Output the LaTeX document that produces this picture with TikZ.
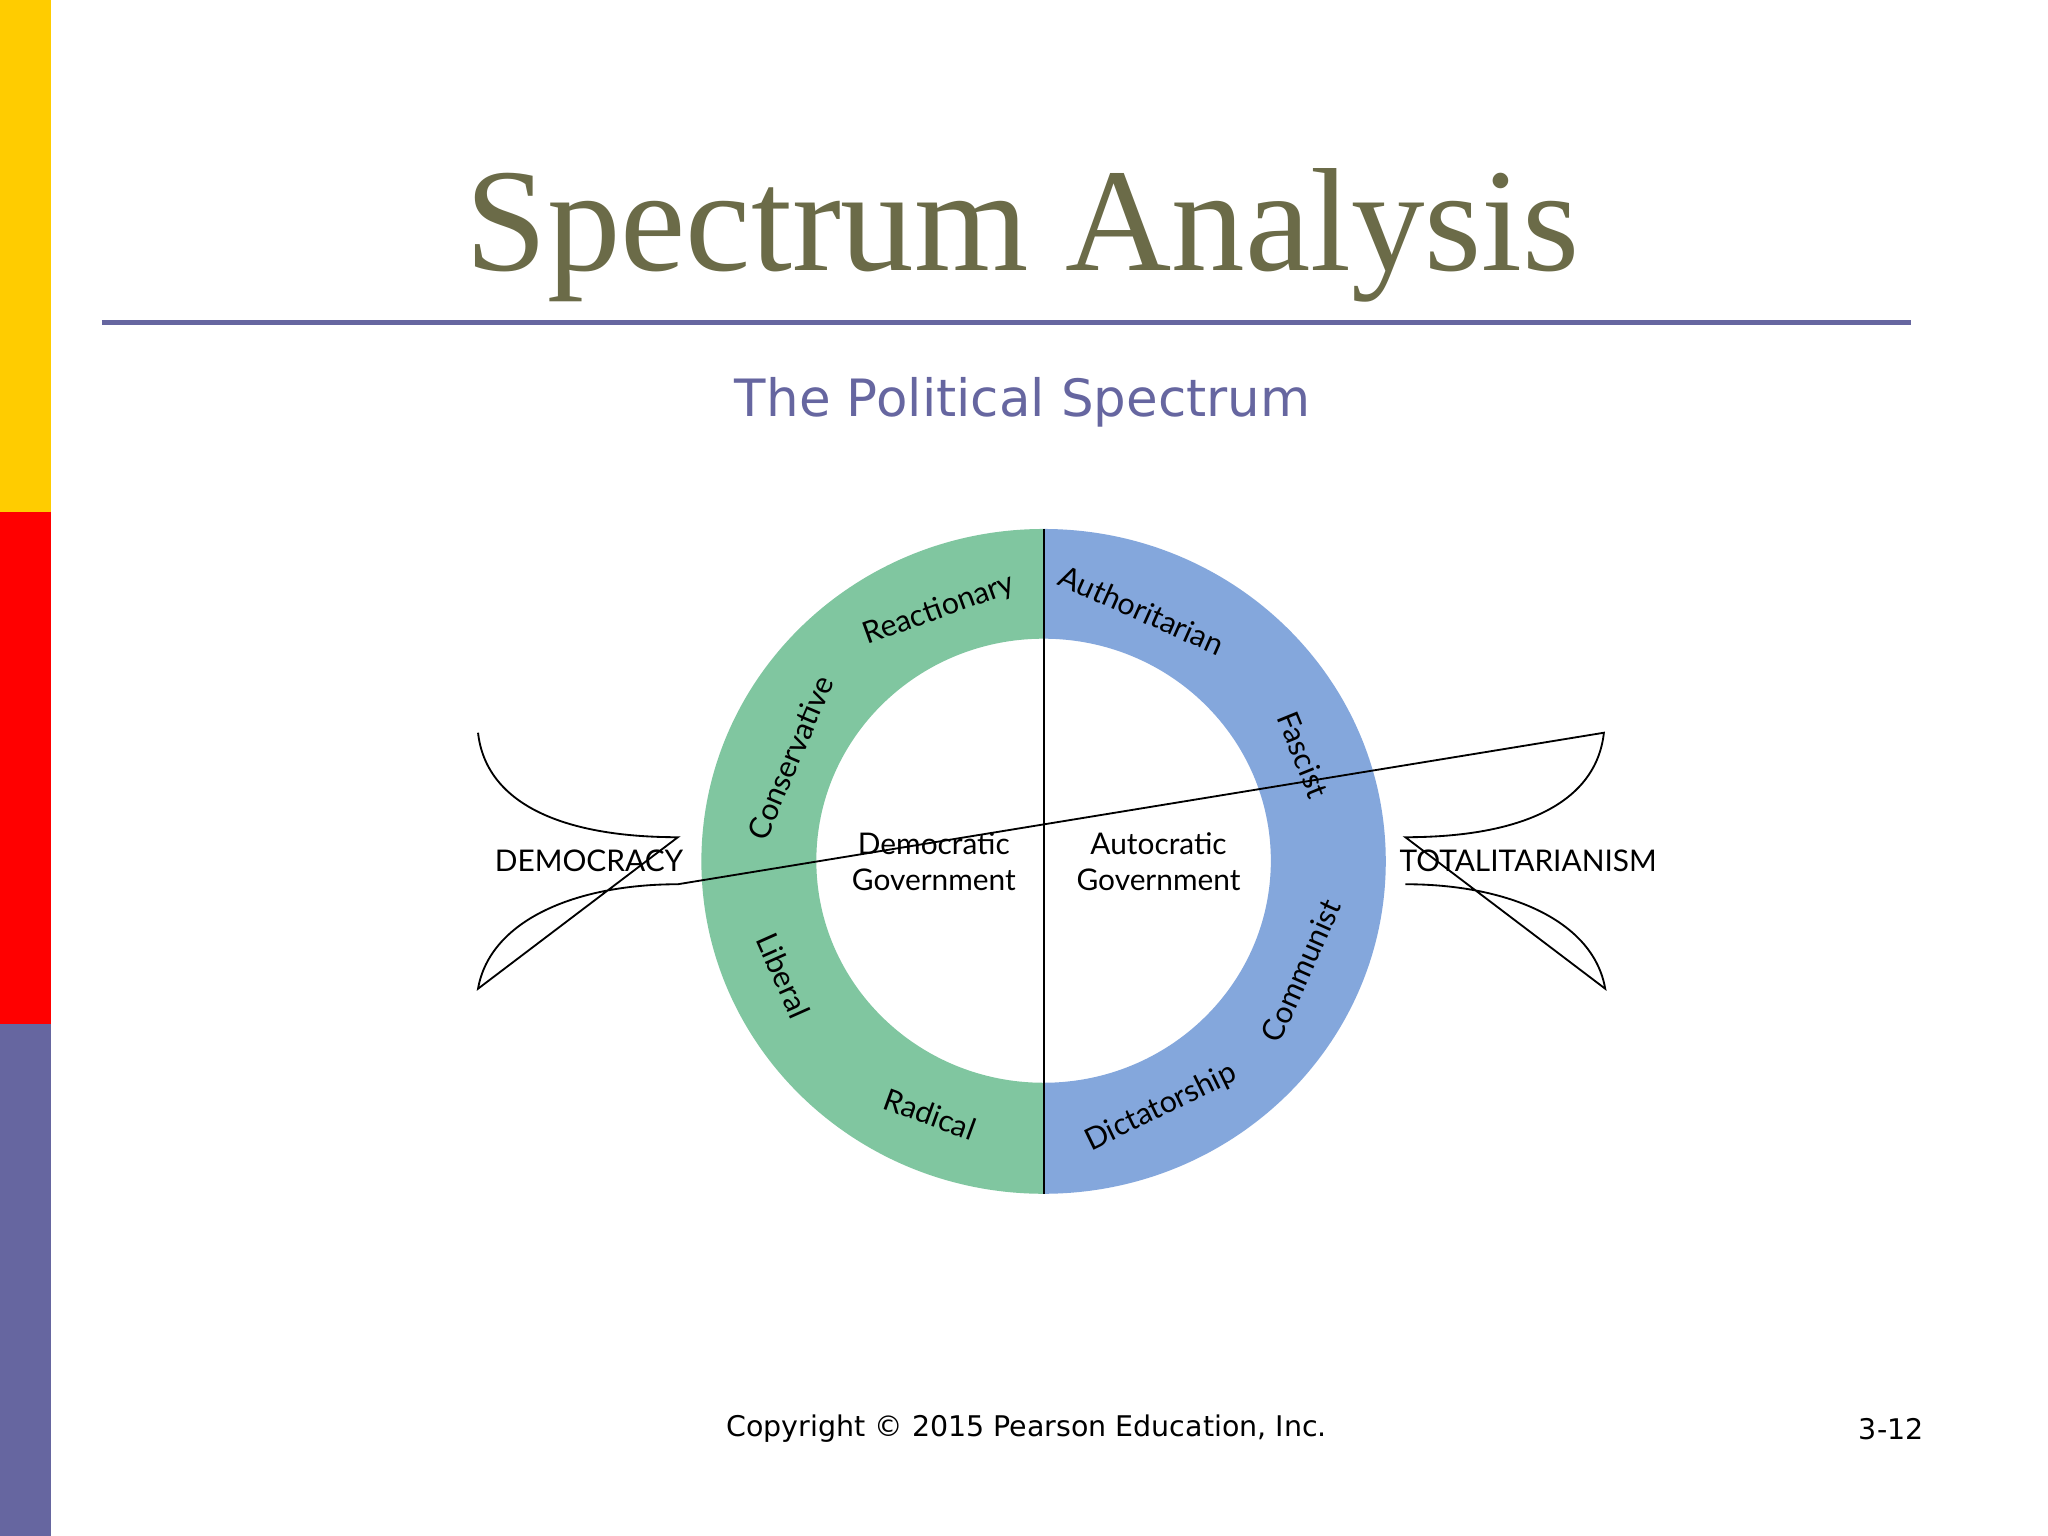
\documentclass[tikz,border=0pt]{standalone}
\usepackage{fontspec}
\setmainfont{Lato}
\newfontfamily\titlefont{Liberation Serif}
\newfontfamily\verd{DejaVu Sans}
\definecolor{olive}{HTML}{6B6B48}
\definecolor{purp}{HTML}{6666A0}
\definecolor{grn}{HTML}{80C6A0}
\definecolor{blu}{HTML}{84A7DC}
\definecolor{gold}{HTML}{FFCC00}
\begin{document}
\begin{tikzpicture}[x=0.01cm,y=-0.01cm,
  lab/.style={font=\fontsize{6.5pt}{7.8pt}\selectfont,inner sep=0pt},
  ring/.style={font=\fontsize{6.6pt}{8pt}\selectfont,inner sep=0pt}]
\useasboundingbox (0,0) rectangle (1568,1176);
\fill[white] (0,0) rectangle (1568,1176);
\fill[gold] (0,0) rectangle (39,392);
\fill[red] (0,392) rectangle (39,784);
\fill[purp] (0,784) rectangle (39,1176);
\node[font=\titlefont\fontsize{32pt}{36pt}\selectfont,text=olive] (title) at (783,180) {Spectrum Analysis};
\draw[purp,line width=1pt] (78,247) -- (1463,247);
\node[font=\verd\fontsize{11.2pt}{13pt}\selectfont,text=purp] (sub) at (783,308) {The Political Spectrum};
% ring
\fill[grn] (799,405) arc[start angle=270,end angle=90,x radius=262,y radius=254.5] -- (799,829) arc[start angle=90,end angle=270,x radius=174,y radius=170] -- cycle;
\fill[blu] (799,405) arc[start angle=270,end angle=450,x radius=262,y radius=254.5] -- (799,829) arc[start angle=90,end angle=-90,x radius=174,y radius=170] -- cycle;
\coordinate (vt) at (799,405); \coordinate (vb) at (799,914);
\draw[line width=0.4pt] (vt) -- (vb);
% arrows shapes
\coordinate (l1) at (366,561); \coordinate (l2) at (519,641); \coordinate (l3) at (366,757); \coordinate (l4) at (519,677);
\coordinate (r1) at (1228,561); \coordinate (r2) at (1076,641); \coordinate (r3) at (1229,757); \coordinate (r4) at (1076,677);
\draw[line width=0.4pt] (l1) .. controls (372,615) and (430,641) .. (l2) -- (l3) .. controls (375,705) and (440,677) .. (l4) -- (r1) .. controls (1222,615) and (1165,641) .. (r2) -- (r3) .. controls (1220,705) and (1155,677) .. (r4);
\node[lab] (dem) at (451,659) {DEMOCRACY};
\node[lab] (tot) at (1170,659) {TOTALITARIANISM};
\node[lab,align=center] (dg) at (715,660) {Democratic\\Government};
\node[lab,align=center] (ag) at (887,660) {Autocratic\\Government};
\node[ring,rotate=20] (rea) at (719,467) {Reactionary};
\node[ring,rotate=-24] (aut) at (874,467) {Authoritarian};
\node[ring,rotate=67] (con) at (605,580) {Conservative};
\node[ring,rotate=-68] (fas) at (998,578) {Fascist};
\node[ring,rotate=-66] (lib) at (600,747) {Liberal};
\node[ring,rotate=66] (com) at (996,743) {Communist};
\node[ring,rotate=-20] (rad) at (712,853) {Radical};
\node[ring,rotate=26] (dic) at (889,848) {Dictatorship};
\node[font=\verd\fontsize{6.2pt}{7.5pt}\selectfont] (copy) at (786,1094) {Copyright © 2015 Pearson Education, Inc.};
\node[font=\verd\fontsize{6.2pt}{7.5pt}\selectfont] (pg) at (1448,1094) {3-12};
\end{tikzpicture}
\end{document}
